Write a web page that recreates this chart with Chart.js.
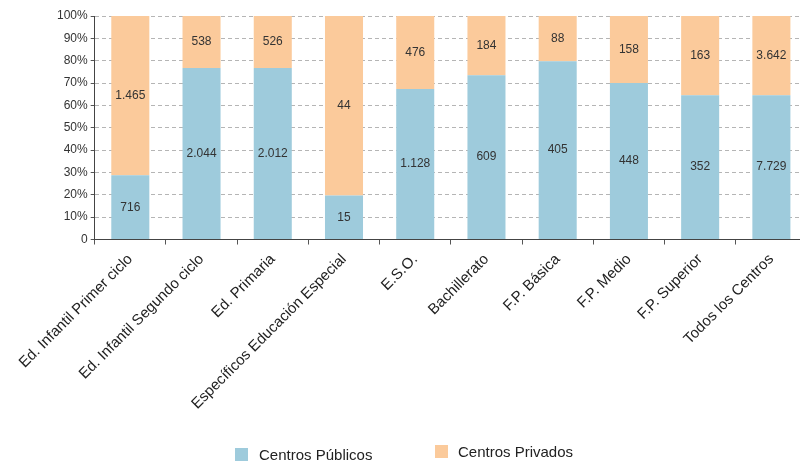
<!DOCTYPE html>
<html>
<head>
<meta charset="utf-8">
<script src="https://cdn.jsdelivr.net/npm/chart.js@4"></script>
<style>
  html, body { margin: 0; padding: 0; background: #fff; overflow: hidden; }
  #wrap { position: relative; width: 800px; height: 461px; overflow: hidden; }
  #box { position: absolute; left: 0; top: 0; width: 807px; height: 461px; }
  .lg { position: absolute; font: 15px "Liberation Sans", Arial, sans-serif; color: #222; line-height: 17px; white-space: nowrap; }
  .sw { position: absolute; width: 13px; height: 13px; }
</style>
</head>
<body>
<div id="wrap">
  <div id="box"><canvas id="chart-canvas"></canvas></div>
  <div class="sw" style="left:235px;top:448px;background:#9ecbdc"></div>
  <div class="lg" style="left:259px;top:446px">Centros Públicos</div>
  <div class="sw" style="left:435px;top:445px;background:#fbca9b"></div>
  <div class="lg" style="left:458px;top:443px">Centros Privados</div>
</div>
<script>
const categories = [
  'Ed. Infantil Primer ciclo',
  'Ed. Infantil Segundo ciclo',
  'Ed. Primaria',
  'Específicos Educación Especial',
  'E.S.O.',
  'Bachillerato',
  'F.P. Básica',
  'F.P. Medio',
  'F.P. Superior',
  'Todos los Centros'
]

// numero de centros (etiquetas)
const centrosPublicos = [716, 2044, 2012, 15, 1128, 609, 405, 448, 352, 7729]
const centrosPrivados = [1465, 538, 526, 44, 476, 184, 88, 158, 163, 3642]

// porcentajes
const pctPublicos = [28.7, 76.7, 76.7, 19.7, 67.3, 73.5, 79.8, 70.0, 64.6, 64.6]
const pctPrivados = [71.3, 23.3, 23.3, 80.3, 32.7, 26.5, 20.2, 30.0, 35.4, 35.4]

const FONT = '"Liberation Sans", Arial, sans-serif'

function fmt (v) {
  return String(v).replace(/\B(?=(\d{3})+(?!\d))/g, '.')
}

const labelsPlugin = {
  id: 'segmentLabels',
  afterDatasetsDraw (chart) {
    const ctx = chart.ctx
    const counts = [centrosPublicos, centrosPrivados]
    ctx.save()
    ctx.font = '12px ' + FONT
    ctx.fillStyle = '#333'
    ctx.textAlign = 'center'
    ctx.textBaseline = 'middle'
    chart.data.datasets.forEach((ds, i) => {
      chart.getDatasetMeta(i).data.forEach((bar, j) => {
        ctx.fillText(fmt(counts[i][j]), bar.x, (bar.y + bar.base) / 2)
      })
    })
    ctx.restore()
  }
}

const ctx = document.getElementById('chart-canvas')
new Chart(ctx, {
  type: 'bar',
  data: {
    labels: categories,
    datasets: [
      {
        label: 'Centros Públicos',
        data: pctPublicos,
        backgroundColor: '#9ecbdc',
        barPercentage: 0.534,
        categoryPercentage: 1
      },
      {
        label: 'Centros Privados',
        data: pctPrivados,
        backgroundColor: '#fbca9b',
        barPercentage: 0.534,
        categoryPercentage: 1
      }
    ]
  },
  options: {
    animation: false,
    responsive: true,
    maintainAspectRatio: false,
    layout: {
      padding: { left: 54, top: 16, right: 0, bottom: 42 }
    },
    plugins: {
      legend: { display: false },
      tooltip: { enabled: false }
    },
    scales: {
      x: {
        stacked: true,
        offset: true,
        grid: {
          offset: true,
          drawOnChartArea: false,
          drawTicks: true,
          tickLength: 5,
          color: '#555'
        },
        border: { color: '#444', width: 1 },
        ticks: {
          minRotation: 45,
          maxRotation: 45,
          autoSkip: false,
          padding: 6,
          color: '#222',
          font: { family: FONT, size: 15 }
        }
      },
      y: {
        stacked: true,
        min: 0,
        max: 100,
        grid: {
          color: '#b5b5b5',
          tickColor: '#555',
          tickLength: 4,
          tickBorderDash: []
        },
        border: { color: '#444', width: 1, dash: [4, 3] },
        ticks: {
          stepSize: 10,
          padding: 3,
          color: '#333',
          font: { family: FONT, size: 12 },
          callback: function (val) {
            return val === 0 ? '0' : val + '%'
          }
        }
      }
    }
  },
  plugins: [labelsPlugin]
})
</script>
</body>
</html>
